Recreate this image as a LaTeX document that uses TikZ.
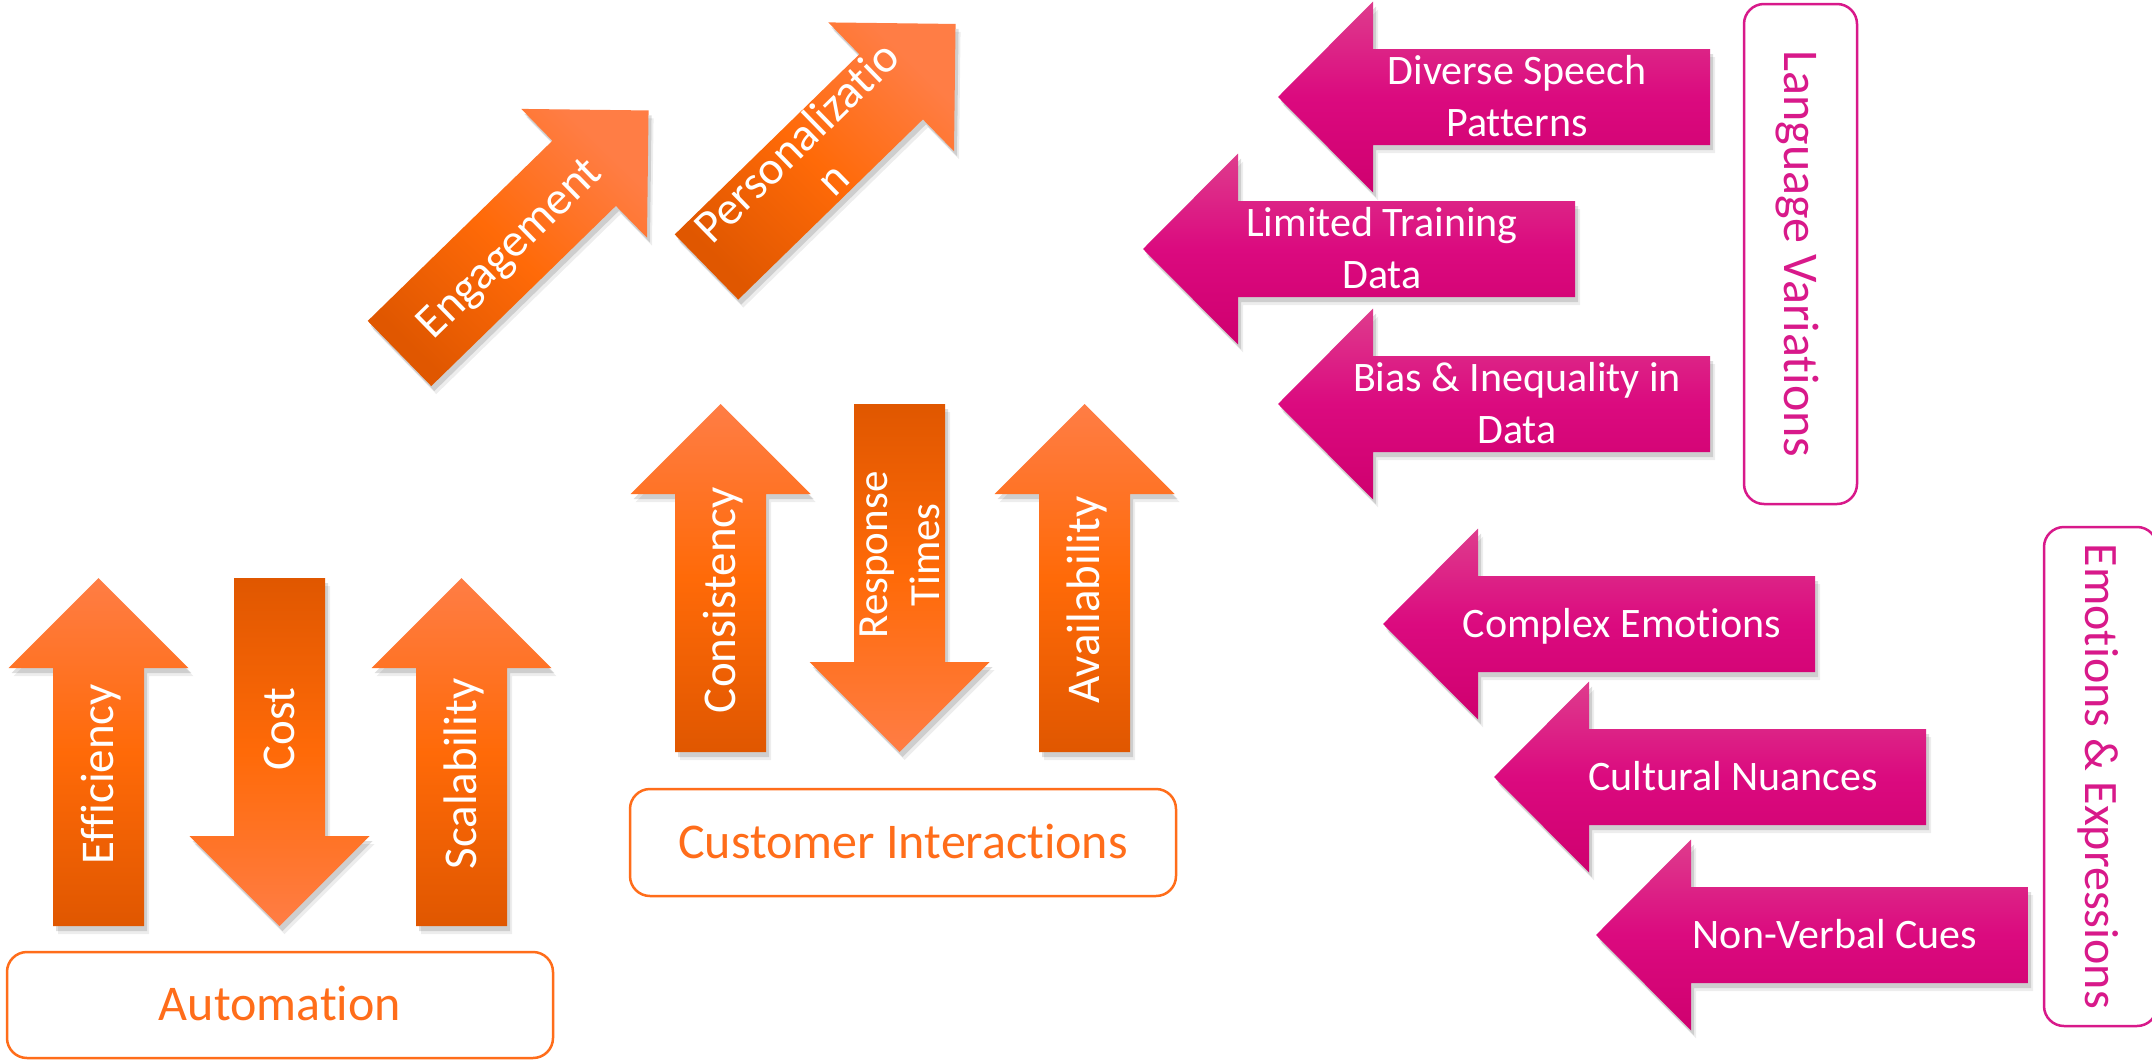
\documentclass[tikz,border=0pt]{standalone}
\usepackage{fontspec}
\setmainfont{Carlito}[Ligatures={NoCommon}]
\usetikzlibrary{calc}
\definecolor{olight}{HTML}{FF7D45}
\definecolor{omid}{HTML}{FF6A08}
\definecolor{odark}{HTML}{E05700}
\definecolor{oline}{HTML}{FF6D1A}
\definecolor{plight}{HTML}{DE3C8D}
\definecolor{pmid}{HTML}{DB0A7F}
\definecolor{pdark}{HTML}{CF006F}
\definecolor{pline}{HTML}{D8198A}
% #1 tail centre, #2 direction angle, #3 head-base distance, #4 length, #5 half head width, #6 half shaft width
\newcommand\arrowpath[6]{($(#1)+(#2+90:#6)$) -- ($(#1)+(#2:#3)+(#2+90:#6)$) -- ($(#1)+(#2:#3)+(#2+90:#5)$) -- ($(#1)+(#2:#4)$) -- ($(#1)+(#2:#3)+(#2-90:#5)$) -- ($(#1)+(#2:#3)+(#2-90:#6)$) -- ($(#1)+(#2-90:#6)$) -- cycle}
\newcommand\oarrow[3]{%
  \fill[black,opacity=.07,transform canvas={shift={(5pt,-8pt)}}] \arrowpath{#1}{#2}{258}{348}{90}{45.5};
  \fill[black,opacity=.13,transform canvas={shift={(3pt,-5pt)}}] \arrowpath{#1}{#2}{258}{348}{90}{45.5};
  \shade[top color=olight,bottom color=odark,middle color=omid,shading angle=#3] \arrowpath{#1}{#2}{258}{348}{90}{45.5};}
\newcommand\parrow[1]{%
  \fill[black,opacity=.07,transform canvas={shift={(5pt,-8pt)}}] \arrowpath{#1}{180}{337}{432}{95.5}{48};
  \fill[black,opacity=.13,transform canvas={shift={(3pt,-5pt)}}] \arrowpath{#1}{180}{337}{432}{95.5}{48};
  \shade[top color=plight,bottom color=pdark,middle color=pmid] \arrowpath{#1}{180}{337}{432}{95.5}{48};}
\newcommand\oc[1]{\raisebox{0pt}[29.7pt][0pt]{#1}}
\newcommand\rc[1]{\raisebox{0pt}[27.2pt][0pt]{#1}}
\newcommand\pc[1]{\raisebox{0pt}[26.5pt][0pt]{#1}}
\newcommand\bc[1]{\raisebox{0pt}[31.6pt][0pt]{#1}}
\newcommand\ec[1]{\raisebox{0pt}[30.3pt][0pt]{#1}}
\tikzset{
  olab/.style={text=white,inner sep=0pt,font=\fontsize{47}{52}\selectfont},
  plab/.style={text=white,inner sep=0pt,align=center,font=\fontsize{42}{52}\selectfont},
  obox/.style={draw=oline,line width=2.5pt,rounded corners=20pt,text=oline,inner sep=0pt,font=\fontsize{50}{60}\selectfont},
  pbox/.style={draw=pline,line width=2.5pt,rounded corners=20pt,text=pline,inner sep=0pt,font=\fontsize{50}{60}\selectfont}
}
\begin{document}
\begin{tikzpicture}[x=1pt,y=-1pt]
\fill[white] (0,0) rectangle (2152,1060);
\useasboundingbox (0,0) rectangle (2152,1060);
% tail centres of the orange arrows
\coordinate (eff) at (98.5,926);
\coordinate (cost) at (279.5,578);
\coordinate (scal) at (461.5,926);
\coordinate (cons) at (720.5,752);
\coordinate (resp) at (899.5,404);
\coordinate (avai) at (1084.5,752);
\coordinate (enga) at (399.5,353.5);
\coordinate (pers) at (706.5,267);
% tail centres of the pink arrows
\coordinate (dsp) at (1710,97);
\coordinate (ltd) at (1575,249);
\coordinate (bias) at (1710,404);
\coordinate (cem) at (1815,624);
\coordinate (cnu) at (1926,777);
\coordinate (nvc) at (2028,935);
% orange arrows
\oarrow{eff}{-90}{0}
\oarrow{cost}{90}{180}
\oarrow{scal}{-90}{0}
\oarrow{cons}{-90}{0}
\oarrow{resp}{90}{180}
\oarrow{avai}{-90}{0}
\oarrow{enga}{-44.3}{-44.3}
\oarrow{pers}{-44.3}{-44.3}
% pink arrows
\parrow{dsp}
\parrow{ltd}
\parrow{bias}
\parrow{cem}
\parrow{cnu}
\parrow{nvc}
% orange arrow labels
\node[olab,rotate=90] (t-eff) at (98.5,774) {\oc{Efficiency}};
\node[olab,rotate=90] (t-cost) at (279.5,729) {\oc{Cost}};
\node[olab,rotate=90] (t-scal) at (461.5,774) {\oc{Scalability}};
\node[olab,rotate=90] (t-cons) at (720.5,600) {\oc{Consistency}};
\node[olab,rotate=90,align=center,font=\fontsize{43}{52}\selectfont] (t-resp) at (899.5,555) {\rc{Response}\\\rc{Times}};
\node[olab,rotate=90] (t-avai) at (1084.5,600) {\oc{Availability}};
\node[olab,rotate=44.3] (t-enga) at ($(enga)+(-44.3:152)$) {\oc{Engagement}};
\node[olab,rotate=44.3,align=center] (t-pers) at ($(pers)+(-44.3:152)$) {\oc{Personalizatio}\\\oc{n}};
% pink arrow labels
\node[plab] (t-dsp) at (1517,97) {\pc{Diverse Speech}\\\pc{Patterns}};
\node[plab] (t-ltd) at (1382,249) {\pc{Limited Training}\\\pc{Data}};
\node[plab] (t-bias) at (1517,404) {\pc{Bias \& Inequality in}\\\pc{Data}};
\node[plab] (t-cem) at (1622,624) {\pc{Complex Emotions}};
\node[plab] (t-cnu) at (1733,777) {\pc{Cultural Nuances}};
\node[plab] (t-nvc) at (1835,935) {\pc{Non-Verbal Cues}};
% group boxes
\node[obox,minimum width=546pt,minimum height=106pt] (auto) at (280,1005) {\bc{Automation}};
\node[obox,minimum width=546pt,minimum height=107pt] (cust) at (903,842.5) {\bc{Customer Interactions}};
\node[pbox,rotate=-90,minimum width=500pt,minimum height=113pt] (lang) at (1800.5,254) {\bc{Language Variations}};
\node[pbox,rotate=-90,minimum width=499pt,minimum height=113pt,font=\fontsize{48}{58}\selectfont] (emo) at (2100.5,776.5) {\ec{Emotions \& Expressions}};
\end{tikzpicture}
\end{document}
